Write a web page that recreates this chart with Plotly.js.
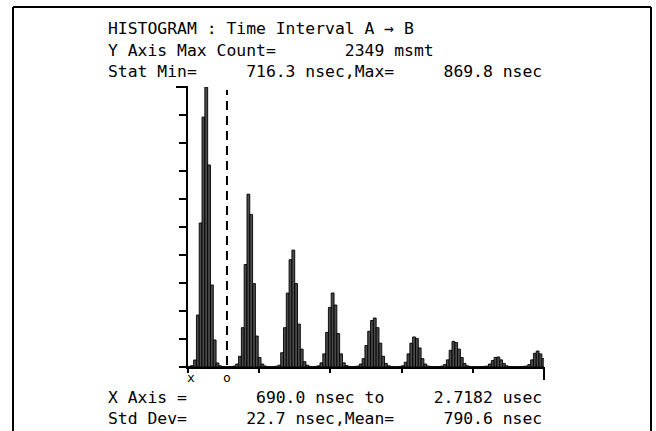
<!DOCTYPE html>
<html>
<head>
<meta charset="utf-8">
<script src="https://cdn.plot.ly/plotly-3.0.1.min.js"></script>
<style>
html,body{margin:0;padding:0;background:#fff;}
#chart{width:656px;height:431px;}
</style>
</head>
<body>
<div id="chart"></div>
<script>
// ---- data ----
const xStartNs = 690.0;          // X Axis start
const xEndNs = 2718.2;           // X Axis end (2.7182 usec)
const binWidthNs = 16;           // histogram bin width
const yMaxCount = 2349;          // Y Axis Max Count
const cursorNs = 912;            // dashed cursor position ("o")
const counts = [
  5, 12, 59, 436, 1208, 2097, 2349, 1695, 688, 227,
  34, 10, 4, 3, 3, 4, 8, 25, 90, 330,
  860, 1450, 1280, 700, 260, 80, 25, 8, 4, 3,
  4, 6, 15, 120, 330, 620, 900, 981, 700, 360,
  150, 45, 15, 5, 3, 5, 10, 35, 110, 290,
  500, 621, 520, 280, 110, 35, 12, 5, 3, 4,
  8, 25, 70, 180, 300, 390, 411, 330, 200, 90,
  30, 10, 4, 3, 3, 5, 10, 40, 110, 200,
  252, 240, 160, 70, 25, 8, 4, 3, 3, 4,
  8, 20, 60, 140, 215, 205, 150, 80, 30, 10,
  4, 3, 3, 3, 4, 5, 8, 25, 55, 80,
  84, 60, 30, 10, 4, 3, 3, 3, 4, 5,
  8, 20, 60, 115, 134, 110, 70
];
const headerLines = [
  "HISTOGRAM : Time Interval A → B",
  "Y Axis Max Count=       2349 msmt",
  "Stat Min=     716.3 nsec,Max=     869.8 nsec"
];
const footerLines = [
  "X Axis =       690.0 nsec to     2.7182 usec",
  "Std Dev=      22.7 nsec,Mean=     790.6 nsec"
];
const markerLabels = ["x", "o"];

// ---- layout geometry (pixels) ----
const W = 656, H = 431;
const L = 188, R = 544, T = 87, B = 367;
const px2x = p => (p - L) / (R - L);
const py2y = p => (B - p) / (B - T);
const nb = s => s.replace(/ /g, "\u00A0");
const FAMILY = "DejaVu Sans Mono, Liberation Mono, monospace";
const FONT = {family: FAMILY, size: 16.4, color: "#000"};
const SMALL = {family: FAMILY, size: 13, color: "#000"};

const annotations = [];
const headerY = [28, 50, 72];
headerLines.forEach((t, i) => annotations.push({
  xref: "paper", yref: "paper", x: px2x(106), y: py2y(headerY[i]),
  xanchor: "left", yanchor: "middle", showarrow: false, text: nb(t), font: FONT
}));
const footerY = [397, 418];
footerLines.forEach((t, i) => annotations.push({
  xref: "paper", yref: "paper", x: px2x(106), y: py2y(footerY[i]),
  xanchor: "left", yanchor: "middle", showarrow: false, text: nb(t), font: FONT
}));
annotations.push({xref: "x", yref: "paper", x: xStartNs + 15, y: py2y(377), xanchor: "center", yanchor: "middle",
  showarrow: false, text: markerLabels[0], font: SMALL, borderpad: 0});
annotations.push({xref: "x", yref: "paper", x: cursorNs, y: py2y(377), xanchor: "center", yanchor: "middle",
  showarrow: false, text: markerLabels[1], font: SMALL, borderpad: 0});

const shapes = [
  // outer frame
  {type: "line", xref: "paper", yref: "paper", x0: px2x(13), x1: px2x(651), y0: py2y(7), y1: py2y(7), line: {color: "#000", width: 2}},
  {type: "line", xref: "paper", yref: "paper", x0: px2x(13), x1: px2x(13), y0: py2y(7), y1: py2y(431), line: {color: "#000", width: 2}},
  {type: "line", xref: "paper", yref: "paper", x0: px2x(651), x1: px2x(651), y0: py2y(7), y1: py2y(431), line: {color: "#000", width: 2}},
  // longer top tick on y axis
  {type: "line", xref: "paper", yref: "paper", x0: px2x(176), x1: 0, y0: 1, y1: 1, line: {color: "#000", width: 2}},
  // longer right-end tick on x axis
  {type: "line", xref: "paper", yref: "paper", x0: 1, x1: 1, y0: 0, y1: py2y(380), line: {color: "#000", width: 2}},
  // dashed cursor
  {type: "line", xref: "x", yref: "paper", x0: cursorNs, x1: cursorNs, y0: py2y(365), y1: py2y(90),
   line: {color: "#000", width: 2, dash: "9px,6px"}}
];

const trace = {
  type: "bar",
  x0: xStartNs + binWidthNs / 2,
  dx: binWidthNs,
  y: counts,
  width: binWidthNs,
  marker: {color: "#4a4a4a", line: {color: "#000", width: 0.9}},
  hoverinfo: "skip"
};

const layout = {
  width: W, height: H,
  margin: {l: L, r: W - R, t: T, b: H - B, pad: 0},
  paper_bgcolor: "#fff", plot_bgcolor: "#fff",
  showlegend: false,
  bargap: 0,
  xaxis: {
    range: [xStartNs, xEndNs], showgrid: false, zeroline: false,
    showline: true, linecolor: "#000", linewidth: 2,
    ticks: "outside", tick0: xStartNs, dtick: (xEndNs - xStartNs) / 5, ticklen: 4, tickwidth: 2, tickcolor: "#000",
    showticklabels: false, fixedrange: true
  },
  yaxis: {
    range: [0, yMaxCount], showgrid: false, zeroline: false,
    showline: true, linecolor: "#000", linewidth: 2,
    ticks: "outside", tick0: 0, dtick: yMaxCount / 10, ticklen: 7, tickwidth: 2, tickcolor: "#000",
    showticklabels: false, fixedrange: true
  },
  annotations: annotations,
  shapes: shapes
};

Plotly.newPlot("chart", [trace], layout, {displayModeBar: false, staticPlot: true});
</script>
</body>
</html>
